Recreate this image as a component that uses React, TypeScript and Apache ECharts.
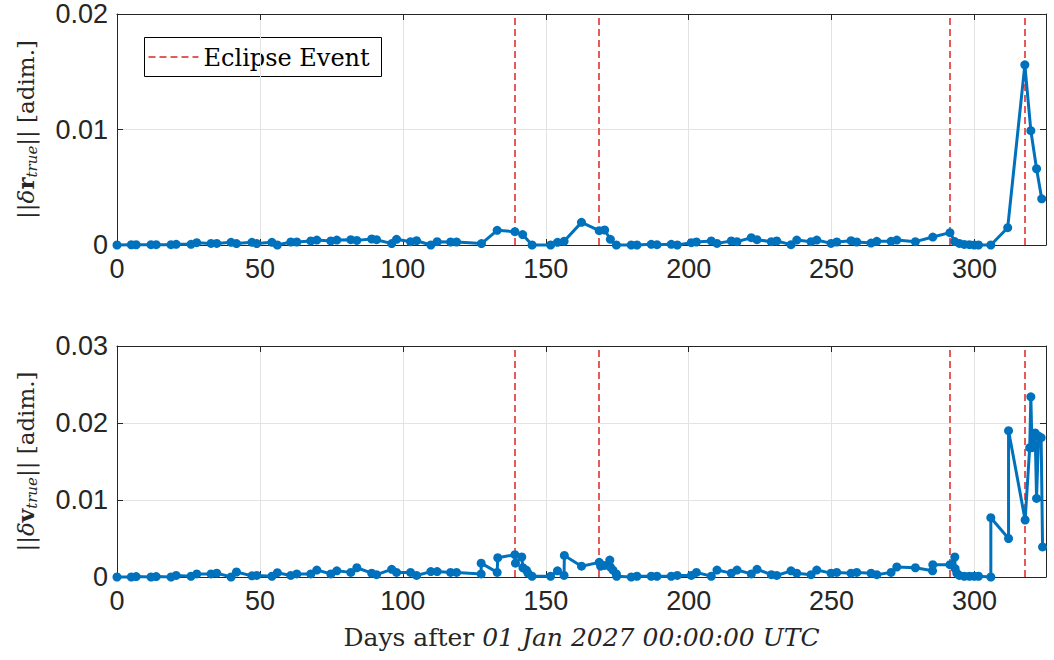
import React, { useEffect, useRef } from "react";
import * as echarts from "echarts";

// ---- data ----
const topDays = [0, 5, 6.7, 11.9, 13.7, 18.9, 20.7, 25.9, 27.9, 32.9, 34.9, 39.9, 41.8, 47.2, 48.9, 54.2, 56.1, 60.8, 62.9, 67.8, 69.9, 74.8, 76.9, 81.8, 83.9, 89.1, 90.8, 96.1, 97.8, 102.7, 104.8, 109.8, 112.0, 116.7, 118.8, 127.5, 133.0, 139.2, 141.9, 145.2, 151.7, 154.1, 156.4, 162.5, 168.7, 170.6, 172.6, 174.7, 179.9, 181.9, 186.9, 188.9, 193.9, 196.0, 200.9, 202.7, 207.9, 209.9, 214.9, 216.9, 221.9, 223.9, 228.9, 230.8, 235.8, 237.8, 242.8, 244.8, 249.8, 251.8, 256.8, 258.8, 263.8, 265.8, 270.8, 272.8, 279.3, 285.4, 291.4, 293.1, 294.7, 296.4, 298.2, 299.9, 301.4, 305.7, 311.6, 317.6, 319.7, 321.7, 323.5];
const topVals = [0, 0.00002, 0.00002, 0.00003, 0.00003, 0.00003, 0.00006, 0.00006, 0.0002, 0.00014, 0.00014, 0.00023, 0.00012, 0.00023, 0.00012, 0.00023, 0.0, 0.00026, 0.00026, 0.00035, 0.00043, 0.00035, 0.00043, 0.00046, 0.0004, 0.00052, 0.00046, 0.00012, 0.00049, 0.00029, 0.00037, 0.0, 0.00029, 0.00026, 0.00026, 0.00012, 0.00127, 0.00115, 0.0009, 0.0, 0.0, 0.00023, 0.00032, 0.00196, 0.00124, 0.0013, 0.00049, 0.0, 0.0, 0.0, 0.00006, 0.00003, 0.00006, 0.0, 0.0002, 0.00026, 0.00035, 0.00014, 0.00035, 0.00029, 0.00063, 0.00046, 0.00029, 0.00035, 0.00003, 0.00043, 0.00029, 0.00043, 0.00014, 0.00026, 0.00037, 0.00026, 0.00017, 0.00032, 0.00032, 0.00043, 0.00029, 0.00069, 0.00107, 0.0003, 0.00014, 0.00005, 0.00003, 0.0, 0.0, 0.0, 0.0015, 0.0156, 0.0099, 0.0066, 0.004];

const bottomDays = [0, 5, 6.7, 11.9, 13.7, 18.9, 20.7, 25.9, 27.9, 32.9, 34.9, 39.9, 41.8, 47.2, 48.9, 54.2, 56.1, 60.8, 62.9, 67.8, 69.9, 74.8, 76.9, 81.8, 83.9, 89.1, 90.8, 96.1, 97.8, 102.7, 104.8, 109.8, 112.0, 116.7, 118.8, 127.4, 127.4, 133.0, 133.2, 139.2, 139.4, 141.6, 142.0, 143.2, 143.8, 145.2, 151.7, 154.1, 156.4, 156.5, 162.5, 168.7, 169.2, 170.6, 172.4, 172.6, 173.5, 174.7, 174.8, 179.9, 181.9, 186.9, 188.9, 193.9, 196.0, 200.9, 202.7, 207.9, 209.9, 214.9, 216.9, 221.9, 223.9, 228.9, 230.8, 235.8, 237.8, 242.8, 244.8, 249.8, 251.8, 256.8, 258.8, 263.8, 265.8, 270.8, 272.8, 279.3, 285.3, 285.4, 291.4, 293.1, 293.2, 293.8, 294.7, 296.4, 298.2, 299.9, 301.4, 305.7, 305.7, 311.9, 311.9, 317.7, 319.3, 319.7, 320.1, 321.2, 321.7, 322.4, 323.3, 323.8];
const bottomVals = [0, 0, 0.00005, 0, 0.00005, 0, 0.0002, 0.0001, 0.0004, 0.0004, 0.0005, 0, 0.00065, 0.00015, 0.0002, 0.0001, 0.00056, 0.0002, 0.0004, 0.0004, 0.0009, 0.0004, 0.0008, 0.0006, 0.0012, 0.0005, 0.0003, 0.001, 0.0006, 0.0006, 0.0002, 0.0007, 0.0007, 0.0006, 0.0006, 0.0004, 0.0018, 0.0006, 0.0025, 0.0029, 0.0018, 0.0026, 0.0012, 0.0009, 0.0005, 0.0001, 0.0001, 0.0008, 0.0002, 0.0028, 0.0014, 0.0019, 0.0014, 0.0015, 0.0022, 0.0013, 0.0009, 0.0004, 0.0001, 0, 0.0001, 0.0001, 0.0001, 0.0001, 0.0002, 0.0002, 0.0006, 0.0001, 0.0009, 0.0005, 0.0009, 0.0004, 0.001, 0.0003, 0.0002, 0.0008, 0.0005, 0.0003, 0.0009, 0.0005, 0.0006, 0.0005, 0.0006, 0.0005, 0.0003, 0.0006, 0.0013, 0.0012, 0.0008, 0.0016, 0.0016, 0.0026, 0.0011, 0.0005, 0.0002, 0.0001, 0.0001, 0.0001, 0.0001, 0, 0.0077, 0.005, 0.019, 0.0074, 0.0168, 0.0234, 0.0168, 0.0187, 0.0102, 0.0183, 0.0181, 0.0039];

const eclipseDays = [139.2, 168.6, 291.4, 317.7];
const xTicks = [0, 50, 100, 150, 200, 250, 300];
const topYTicks = [0, 0.01, 0.02];
const bottomYTicks = [0, 0.01, 0.02, 0.03];
const legendLabel = "Eclipse Event";

const BLUE = "#0072BD";
const RED = "#e35b5b";
const AX = "#262626";
const GRIDC = "#e3e3e3";
const SANS = "'Liberation Sans', Arial, sans-serif";
const SERIF = "'DejaVu Serif', 'Liberation Serif', serif";

export default function App() {
  const ref = useRef<HTMLDivElement>(null);
  useEffect(() => {
    document.body.style.margin = "0";
    const chart = echarts.init(ref.current!, null, { renderer: "svg" });
    const xmax = 325;
    const fmtY = (v: number) => (v === 0 ? "0" : v.toFixed(2));
    const mainX = (gridIndex: number, withName: boolean) => ({
      type: "value",
      gridIndex,
      min: 0,
      max: xmax,
      interval: 50,
      position: "bottom",
      axisLine: { show: true, onZero: false, lineStyle: { color: AX, width: 1 } },
      axisTick: { show: true, inside: true, length: 6, lineStyle: { color: AX } },
      axisLabel: {
        showMaxLabel: false,
        color: AX,
        fontFamily: SANS,
        fontSize: 27,
        margin: 10,
        formatter: (v: number) => (xTicks.includes(v) ? String(v) : ""),
      },
      splitLine: { show: true, lineStyle: { color: GRIDC, width: 1 } },
      ...(withName
        ? {
            name: "Days after {i|01 Jan 2027 00:00:00 UTC}",
            nameLocation: "middle",
            nameGap: 48,
            nameTextStyle: {
              fontFamily: SERIF,
              fontSize: 25,
              color: AX,
              rich: { i: { fontFamily: SERIF, fontSize: 25, fontStyle: "italic", color: AX } },
            },
          }
        : {}),
    });
    const mirrorX = (gridIndex: number) => ({
      type: "value",
      gridIndex,
      min: 0,
      max: xmax,
      interval: 50,
      position: "top",
      axisLine: { show: true, onZero: false, lineStyle: { color: AX, width: 1 } },
      axisTick: { show: true, inside: true, length: 6, lineStyle: { color: AX } },
      axisLabel: { show: false },
      splitLine: { show: false },
    });
    const mainY = (gridIndex: number, max: number, ticks: number[], letter: string) => ({
      type: "value",
      gridIndex,
      min: 0,
      max,
      interval: 0.01,
      position: "left",
      axisLine: { show: true, onZero: false, lineStyle: { color: AX, width: 1 } },
      axisTick: { show: true, inside: true, length: 6, lineStyle: { color: AX } },
      axisLabel: {
        color: AX,
        fontFamily: SANS,
        fontSize: 27,
        margin: 9,
        formatter: (v: number) => (ticks.some((t) => Math.abs(t - v) < 1e-9) ? fmtY(v) : ""),
      },
      splitLine: { show: true, lineStyle: { color: GRIDC, width: 1 } },
      name: `{n|||}{i|δ}{b|${letter}}{s|true}{n||| [adim.]}`,
      nameLocation: "middle",
      nameRotate: 90,
      nameGap: 78,
      nameTextStyle: {
        color: AX,
        rich: {
          n: { fontFamily: SERIF, fontSize: 23, color: AX },
          i: { fontFamily: SERIF, fontSize: 23, fontStyle: "italic", color: AX },
          b: { fontFamily: SERIF, fontSize: 23, fontWeight: "bold", color: AX },
          s: { fontFamily: SERIF, fontSize: 15, fontStyle: "italic", color: AX, verticalAlign: "bottom", padding: [12, 0, 0, 0] },
        },
      },
    });
    const mirrorY = (gridIndex: number, max: number) => ({
      type: "value",
      gridIndex,
      min: 0,
      max,
      interval: 0.01,
      position: "right",
      axisLine: { show: true, onZero: false, lineStyle: { color: AX, width: 1 } },
      axisTick: { show: true, inside: true, length: 6, lineStyle: { color: AX } },
      axisLabel: { show: false },
      splitLine: { show: false },
    });
    const eclipseSeries = (xi: number, yi: number) => ({
      name: legendLabel,
      type: "line",
      xAxisIndex: xi,
      yAxisIndex: yi,
      data: [],
      symbol: "none",
      lineStyle: { color: RED, width: 2, type: [7, 4] },
      itemStyle: { color: RED },
      z: 2,
      markLine: {
        silent: true,
        symbol: ["none", "none"],
        label: { show: false },
        lineStyle: { color: RED, width: 2, type: [7, 4] },
        data: eclipseDays.map((d) => ({ xAxis: d })),
      },
    });
    const dataSeries = (xi: number, yi: number, days: number[], vals: number[]) => ({
      name: "data" + xi,
      type: "line",
      xAxisIndex: xi,
      yAxisIndex: yi,
      data: days.map((d, i) => [d, vals[i]]),
      symbol: "circle",
      symbolSize: 9,
      showSymbol: true,
      lineStyle: { color: BLUE, width: 3 },
      itemStyle: { color: BLUE },
      clip: false,
      z: 5,
    });
    chart.setOption({
      animation: false,
      backgroundColor: "#ffffff",
      grid: [
        { left: 117, top: 14, width: 929, height: 231 },
        { left: 117, top: 346, width: 929, height: 231 },
      ],
      graphic: [
        {
          type: "group",
          left: 144,
          top: 37,
          z: 100,
          children: [
            { type: "rect", shape: { x: 0, y: 0, width: 237, height: 39 }, style: { fill: "#fff", stroke: "#000", lineWidth: 1 } },
            { type: "line", shape: { x1: 4, y1: 19.5, x2: 54, y2: 19.5 }, style: { stroke: RED, lineWidth: 2, lineDash: [7, 4] } },
            { type: "text", x: 59, y: 20, style: { text: legendLabel, fontFamily: SERIF, fontSize: 24, fill: "#000", verticalAlign: "middle", align: "left" } },
          ],
        },
      ],
      xAxis: [mainX(0, false), mirrorX(0), mainX(1, true), mirrorX(1)],
      yAxis: [
        mainY(0, 0.02, topYTicks, "r"),
        mirrorY(0, 0.02),
        mainY(1, 0.03, bottomYTicks, "v"),
        mirrorY(1, 0.03),
      ],
      series: [
        eclipseSeries(0, 0),
        eclipseSeries(2, 2),
        dataSeries(0, 0, topDays, topVals),
        dataSeries(2, 2, bottomDays, bottomVals),
      ],
    });
    return () => chart.dispose();
  }, []);
  return <div ref={ref} style={{ width: 1054, height: 660 }} />;
}
